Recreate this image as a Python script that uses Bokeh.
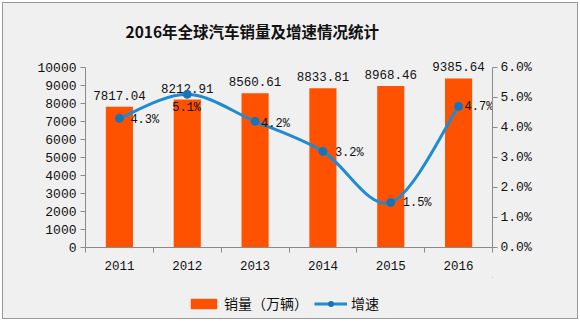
import numpy as np
from bokeh.plotting import figure
from bokeh.layouts import column
from bokeh.models import (Range1d, LinearAxis, FixedTicker, PrintfTickFormatter,
                          Legend, LegendItem, ColumnDataSource)
from bokeh.core.properties import value
from bokeh.embed import file_html
from bokeh.resources import INLINE

# ---- data ----
years = ["2011", "2012", "2013", "2014", "2015", "2016"]
sales = [7817.04, 8212.91, 8560.61, 8833.81, 8968.46, 9385.64]   # 万辆
growth = [4.3, 5.1, 4.2, 3.2, 1.5, 4.7]                           # %
sales_ticks = [0, 1000, 2000, 3000, 4000, 5000, 6000, 7000, 8000, 9000, 10000]
growth_ticks = [0, 1, 2, 3, 4, 5, 6]
title_text = "2016年全球汽车销量及增速情况统计"
sales_name = "销量（万辆）"
growth_name = "增速"

# ---- styles ----
BAR = "#ff5200"
LINE = "#1e8bd2"
MARK = "#1874b8"
BG = "#f0f0f0"
AX = "#8a8a8a"
NUMFONT = "Liberation Mono"
CJK = "Noto Sans CJK SC"
HEAD = 1.06          # headroom above the top tick (axis lines stop at the top tick)
pct_dx = [11, -15, 6, 12, 12, 6]
pct_dy = [2, 14, 3, 2, 1, 1]

n = len(years)
xs = [i + 0.5 for i in range(n)]

p = figure(width=574, height=274, output_backend="svg", toolbar_location=None,
           x_range=Range1d(0, n), y_range=Range1d(sales_ticks[0], sales_ticks[-1] * HEAD),
           min_border_left=82, min_border_right=85, min_border_top=49, min_border_bottom=30,
           background_fill_color=BG, border_fill_color=BG, outline_line_color=None)
p.extra_y_ranges = {"pct": Range1d(growth_ticks[0], growth_ticks[-1] * HEAD)}
p.xgrid.visible = False
p.ygrid.visible = False

# title
p.title.text = title_text
p.title.align = "left"
p.title.offset = 40
p.title.text_font = CJK
p.title.text_font_size = "15.5px"
p.title.text_font_style = "bold"
p.title.text_color = "#111111"
p.title.standoff = 29

# bars
src = ColumnDataSource(dict(x=xs, sales=sales, growth=growth,
                            slab=["%.2f" % v for v in sales],
                            glab=["%.1f%%" % v for v in growth],
                            dx=pct_dx, dy=pct_dy))
bars = p.vbar(x="x", top="sales", width=0.4, bottom=0, source=src,
              fill_color=BAR, line_color=None)
p.text(x="x", y="sales", text="slab", source=src, y_offset=-7,
       text_align="center", text_baseline="bottom",
       text_font=value(NUMFONT), text_font_size="12.5px", text_color="#111111")

# smooth growth curve (Catmull-Rom to Bezier, computed from the data points)
gx = np.array(xs)
gy = np.array(growth, dtype=float)
px = np.concatenate([[gx[0]], gx, [gx[-1]]])
py = np.concatenate([[gy[0]], gy, [gy[-1]]])
x0 = gx[:-1]; y0 = gy[:-1]; x1 = gx[1:]; y1 = gy[1:]
cx0 = x0 + (px[2:-1] - px[:-3]) / 6.0
cy0 = y0 + (py[2:-1] - py[:-3]) / 6.0
cx1 = x1 - (px[3:] - px[1:-2]) / 6.0
cy1 = y1 - (py[3:] - py[1:-2]) / 6.0
p.bezier(x0=x0, y0=y0, x1=x1, y1=y1, cx0=cx0, cy0=cy0, cx1=cx1, cy1=cy1,
         line_color=LINE, line_width=3, y_range_name="pct")
p.scatter(x="x", y="growth", source=src, size=8, marker="circle",
          fill_color=MARK, line_color=MARK, y_range_name="pct")
p.text(x="x", y="growth", text="glab", source=src, x_offset="dx", y_offset="dy",
       text_align="left", text_baseline="middle", y_range_name="pct",
       text_font=value(NUMFONT), text_font_size="12px", text_color="#111111")

# axes
for ax in (p.xaxis[0], p.yaxis[0]):
    ax.axis_line_color = AX
    ax.major_tick_line_color = AX
    ax.minor_tick_line_color = AX
    ax.major_label_text_font = NUMFONT
    ax.major_label_text_font_size = "13px"
    ax.major_label_text_color = "#111111"

p.yaxis[0].ticker = FixedTicker(ticks=sales_ticks)
p.yaxis[0].bounds = (sales_ticks[0], sales_ticks[-1])
p.yaxis[0].major_tick_out = 5
p.yaxis[0].major_tick_in = 0
p.yaxis[0].minor_tick_line_color = None
p.yaxis[0].major_label_standoff = 4

p.xaxis[0].ticker = FixedTicker(ticks=xs, minor_ticks=list(range(n + 1)))
p.xaxis[0].major_label_overrides = {x: y for x, y in zip(xs, years)}
p.xaxis[0].major_tick_line_color = None
p.xaxis[0].minor_tick_out = 5
p.xaxis[0].minor_tick_in = 0
p.xaxis[0].major_label_standoff = 7
p.xaxis[0].major_label_text_font_size = "12.5px"

ra = LinearAxis(y_range_name="pct", ticker=FixedTicker(ticks=growth_ticks),
                formatter=PrintfTickFormatter(format="%.1f%%"),
                bounds=(growth_ticks[0], growth_ticks[-1]))
ra.axis_line_color = AX
ra.major_tick_line_color = AX
ra.minor_tick_line_color = None
ra.major_tick_out = 5
ra.major_tick_in = 0
ra.major_label_standoff = 3
ra.major_label_text_font = NUMFONT
ra.major_label_text_font_size = "13px"
ra.major_label_text_color = "#111111"
p.add_layout(ra, "right")

# legend strip (its proxy glyphs lie outside its view)
q = figure(width=574, height=41, output_backend="svg", toolbar_location=None,
           x_range=Range1d(-20, -19), y_range=Range1d(-20, -19),
           x_axis_type=None, y_axis_type=None,
           min_border_left=0, min_border_right=0, min_border_top=0, min_border_bottom=0,
           background_fill_color=BG, border_fill_color=BG, outline_line_color=None)
q.xgrid.visible = False
q.ygrid.visible = False
lb = q.vbar(x=xs, top=sales, width=0.4, fill_color=BAR, line_color=None)
ll = q.line(x=xs, y=growth, line_color=LINE, line_width=3)
lm = q.scatter(x=xs, y=growth, size=8, marker="circle", fill_color=MARK, line_color=MARK)
legend = Legend(items=[LegendItem(label=sales_name, renderers=[lb]),
                       LegendItem(label=growth_name, renderers=[ll, lm])],
                orientation="horizontal", location=(102, 5),
                background_fill_alpha=0, border_line_color=None,
                glyph_width=33, glyph_height=13, label_standoff=4, spacing=6,
                padding=4, margin=0,
                label_text_font=CJK, label_text_font_size="14px",
                label_text_color="#111111")
q.add_layout(legend, "center")

layout = column(p, q, spacing=0, margin=(2, 0, 0, 2),
                styles={"border": "1px solid #9a9a9a", "background-color": BG})

open("out.html", "w").write(file_html(layout, INLINE))
